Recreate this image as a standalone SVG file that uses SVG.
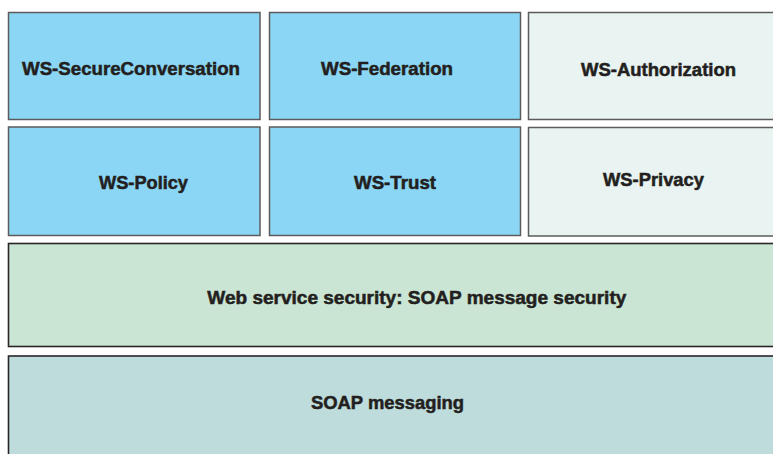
<svg xmlns="http://www.w3.org/2000/svg" width="773" height="454" viewBox="0 0 773 454">
<style>
.box{stroke:#5b5b5b;stroke-width:1.5}
.blue{fill:#8bd6f5}
.pale{fill:#e9f3f1}
.layer{stroke:#2a2627;stroke-width:1.6}
.green{fill:#cbe5d4}
.teal{fill:#bddcdb}
text{font-family:"Liberation Sans",Arial,sans-serif;font-weight:bold;font-size:17.5px;fill:#231f20;stroke:#231f20;stroke-width:0.5}
</style>
<rect width="773" height="454" fill="#ffffff"/>
<g id="ws-secureconversation"><rect class="box blue" x="8.5" y="12.5" width="251.5" height="107"/><text x="22" y="74.5" textLength="218" lengthAdjust="spacingAndGlyphs">WS-SecureConversation</text></g>
<g id="ws-federation"><rect class="box blue" x="269.5" y="12.5" width="251" height="107"/><text x="321" y="75" textLength="132" lengthAdjust="spacingAndGlyphs">WS-Federation</text></g>
<g id="ws-authorization"><rect class="box pale" x="528.5" y="12.5" width="252" height="107"/><text x="581" y="75.5" textLength="155" lengthAdjust="spacingAndGlyphs">WS-Authorization</text></g>
<g id="ws-policy"><rect class="box blue" x="8.5" y="127" width="251.5" height="108.5"/><text x="99" y="189.3" textLength="89" lengthAdjust="spacingAndGlyphs">WS-Policy</text></g>
<g id="ws-trust"><rect class="box blue" x="269.5" y="127" width="251" height="108.5"/><text x="354" y="189" textLength="82" lengthAdjust="spacingAndGlyphs">WS-Trust</text></g>
<g id="ws-privacy"><rect class="box pale" x="528.5" y="127.5" width="252" height="108.5"/><text x="603" y="186" textLength="101" lengthAdjust="spacingAndGlyphs">WS-Privacy</text></g>
<g id="soap-message-security"><rect class="layer green" x="8.5" y="243.5" width="772" height="103"/><text x="207.3" y="304.3" textLength="419" lengthAdjust="spacingAndGlyphs">Web service security: SOAP message security</text></g>
<g id="soap-messaging"><rect class="layer teal" x="8.5" y="356" width="772" height="104"/><text x="311" y="409" textLength="153" lengthAdjust="spacingAndGlyphs">SOAP messaging</text></g>
<g id="connectors"></g>
</svg>
